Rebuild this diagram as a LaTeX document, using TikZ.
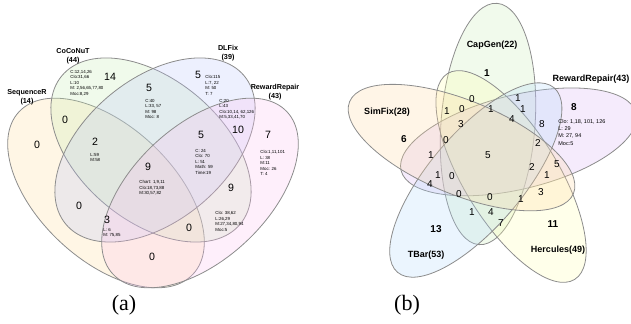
\documentclass[tikz,border=0pt]{standalone}
\usepackage{fontspec}
\setmainfont{Liberation Sans}
\newfontfamily\capserif{Liberation Serif}
\usepackage{tikz}
\definecolor{seqfill}{RGB}{255,220,150}
\definecolor{cocofill}{RGB}{195,235,175}
\definecolor{dlffill}{RGB}{185,195,250}
\definecolor{rrfill}{RGB}{250,190,240}
\definecolor{capfill}{RGB}{200,235,180}
\definecolor{rewfill}{RGB}{215,175,245}
\definecolor{hercfill}{RGB}{255,255,170}
\definecolor{tbarfill}{RGB}{175,215,250}
\definecolor{simfill}{RGB}{255,215,160}
\tikzstyle{every node}=[inner sep=0pt]
\tikzstyle{setline}=[draw=black!45,line width=0.4pt,fill opacity=0.25]
\tikzstyle{setname}=[font=\fontsize{3.6}{4.5}\selectfont\bfseries,align=center]
\tikzstyle{toolname}=[font=\fontsize{4.5}{5}\selectfont\bfseries]
\tikzstyle{count}=[font=\fontsize{5.3}{6}\selectfont]
\tikzstyle{smallcount}=[font=\fontsize{5}{6}\selectfont]
\tikzstyle{onlycount}=[font=\fontsize{5}{6}\selectfont\bfseries]
\tikzstyle{bugs}=[font=\fontsize{2.2}{2.75}\selectfont,align=left,anchor=north west]
\tikzstyle{bigbugs}=[font=\fontsize{2.75}{3.65}\selectfont,align=left,anchor=north west]
\tikzstyle{caption}=[font=\capserif\fontsize{11}{12}\selectfont]

\begin{document}
\begin{tikzpicture}[x=0.5pt,y=-0.5pt]
  \useasboundingbox (0,0) rectangle (631,324);
  \clip (0,0) rectangle (631,324);
  % (a) four tools
  \draw[setline,fill=seqfill,rotate around={-43:(106,193)}] (106,193) ellipse (119 and 67);
  \draw[setline,fill=cocofill,rotate around={-39.7:(151,150)}] (151,150) ellipse (116 and 71);
  \draw[setline,fill=dlffill,rotate around={39.7:(155,150)}] (155,150) ellipse (116 and 71);
  \draw[setline,fill=rrfill,rotate around={43:(200,193)}] (200,193) ellipse (119 and 67);

  \node[setname] (sequencer) at (27,97.5) {SequenceR\\(14)};
  \node[setname] (coconut) at (73,56) {CoCoNuT\\(44)};
  \node[setname] (dlfix) at (228,53.5) {DLFix\\(39)};
  \node[setname] (rewardrepair) at (275,92.5) {RewardRepair\\(43)};

  \node[count] (c14) at (110,77) {14};
  \node[count] (cd5) at (149,88) {5};
  \node[count] (d5) at (198,75) {5};
  \node[count] (r7) at (268,135) {7};
  \node[count] (s0) at (37,145) {0};
  \node[count] (sc0) at (65,120) {0};
  \node[count] (scd2) at (95,142) {2};
  \node[count] (all9) at (148,167) {9};
  \node[count] (cdr5) at (201,135) {5};
  \node[count] (dr10) at (238,130) {10};
  \node[count] (cr9) at (231,188) {9};
  \node[count] (sd0) at (79,206) {0};
  \node[count] (sdr3) at (107,220) {3};
  \node[count] (scr0) at (189,228) {0};
  \node[count] (sr0) at (152,257) {0};

  \node[bugs] (c14bugs) at (70,70) {C:12,14,26\\Clo:31,66\\L:10\\M: 2,56,65,77,80\\Moc:8,29};
  \node[bugs] (cd5bugs) at (145,99) {C:40\\L:33, 57\\M: 98\\Moc: 8};
  \node[bugs] (d5bugs) at (205,75) {Clo:115\\L:7, 22\\M: 50\\T: 7};
  \node[bugs] (dr10bugs) at (219,99) {C:20\\L:43\\Clo:10,14, 62,126\\M:5,33,41,70};
  \node[bugs] (cdr5bugs) at (195,149) {C: 24\\Clo: 70\\L: 51\\Math: 59\\Time:19};
  \node[bugs] (r7bugs) at (260,150) {Clo:1,11,101\\L: 38\\M:11\\Moc: 26\\T: 4};
  \node[bugs] (all9bugs) at (139,180) {Chart: 1,9,11\\Clo:18,73,88\\M:30,57,82};
  \node[bugs] (scd2bugs) at (90,153) {L:59\\M:58};
  \node[bugs] (sdr3bugs) at (103,228) {L: 6\\M: 75,85};
  \node[bugs] (cr9bugs) at (215,211) {Clo: 38,62\\L:26,29\\M:27,34,80,94\\Moc:5};

  % (b) five tools
  \foreach \col [count=\k from 0] in {capfill,rewfill,hercfill,tbarfill,simfill}
    \draw[setline,fill=\col,rotate around={-72*\k:(491,154)},rotate around={-4.3:(488,124)}]
      (488,124) ellipse (47 and 121);

  \node[toolname] (capgen) at (492,45) {CapGen(22)};
  \node[toolname] (rewardrepairb) at (591,79) {RewardRepair(43)};
  \node[toolname] (hercules) at (558,250) {Hercules(49)};
  \node[toolname] (tbar) at (426,255) {TBar(53)};
  \node[toolname] (simfix) at (387,112) {SimFix(28)};

  \node[onlycount] (capgen1) at (487,73) {1};
  \node[onlycount] (rew8) at (574,107) {8};
  \node[onlycount] (herc11) at (553,224) {11};
  \node[onlycount] (tbar13) at (436,229) {13};
  \node[onlycount] (simfix6) at (404,139) {6};

  \foreach \px/\py/\v [count=\i] in {472/99/0,518/98/1,447/111/1,462/109/0,491/109/1,
      523/109/1,461/124/3,512/119/4,542/124/8,538/143/2,446/140/0,488/155/5,431/155/1,
      438/175/1,452/176/0,430/184/4,459/194/0,472/212/1,532/167/2,547/175/1,557/164/5,
      541/192/3,490/197/0,521/199/1,491/212/4,501/223/7}
    \node[smallcount] (b\i) at (\px,\py) {\v};

  \node[bigbugs] (rewbugs) at (558,119) {Clo: 1,18, 101, 126\\L: 29\\M: 27, 94\\Moc:5};

  \node[caption] (capa) at (124,305) {(a)};
  \node[caption] (capb) at (407,305) {(b)};
\end{tikzpicture}
\end{document}
